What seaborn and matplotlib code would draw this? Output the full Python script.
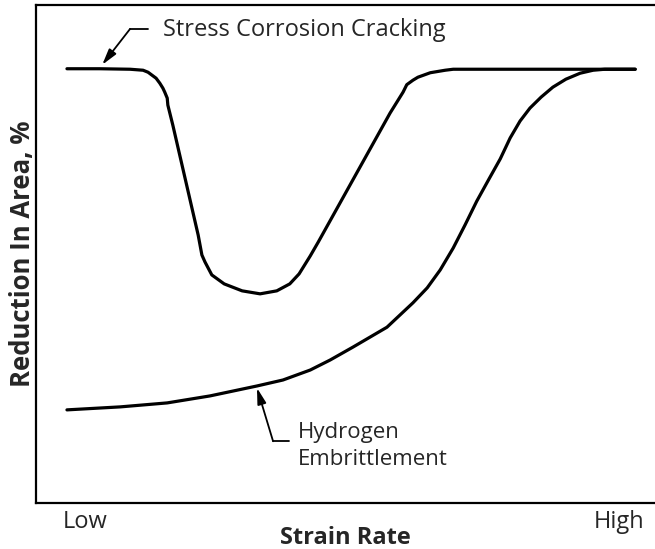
import matplotlib
matplotlib.use("Agg")
import matplotlib.pyplot as plt
import numpy as np
import pandas as pd
import seaborn as sns

# strain rate on a 0-100 relative scale, reduction in area in %
scc_rate = [5.0, 10.3, 15.2, 17.3, 18.1, 19.4, 20.0, 20.5, 20.8, 21.2, 21.3, 22.1,
            26.2, 26.8, 27.3, 28.4, 30.4, 33.3, 36.2, 38.9, 41.0, 42.5, 44.3, 45.6,
            57.2, 59.3, 59.9, 60.9, 61.7, 63.7, 66.1, 67.4, 71.7, 96.8]
scc_ra = [87.2, 87.2, 87.1, 86.9, 86.5, 85.3, 84.3, 83.3, 82.5, 81.3, 79.9, 75.9,
          53.8, 49.8, 48.4, 45.8, 44.0, 42.6, 42.0, 42.6, 44.0, 46.0, 49.6, 52.4,
          78.3, 82.5, 84.0, 84.9, 85.5, 86.4, 86.9, 87.1, 87.1, 87.1]

he_rate = [5.0, 13.6, 21.2, 28.1, 35.7, 39.9, 44.3, 47.5, 51.2, 56.7, 60.9, 63.2,
           65.3, 67.4, 69.3, 71.2, 73.2, 75.0, 76.6, 78.2, 79.8, 81.6, 83.5, 85.6,
           87.9, 90.0, 91.9, 96.8]
he_ra = [18.7, 19.3, 20.1, 21.5, 23.5, 24.7, 26.7, 28.7, 31.3, 35.3, 40.2, 43.2,
         46.8, 51.2, 55.8, 60.6, 65.1, 69.1, 73.3, 76.7, 79.3, 81.5, 83.5, 85.1,
         86.3, 86.9, 87.1, 87.1]

tick_pos = [7.9, 94.2]
tick_labels = ["Low", "High"]

# leader lines for the two labels: (tip, elbow, end)
scc_leader = [(10.7, 88.0), (15.2, 95.2), (18.1, 95.2)]
he_leader = [(35.7, 23.1), (38.3, 12.4), (40.9, 12.4)]

sns.set_theme(style="white")
plt.rcParams["font.family"] = ["Open Sans", "DejaVu Sans"]

fig = plt.figure(figsize=(6.55, 5.49), dpi=100)
ax = fig.add_axes([36 / 655, 46 / 549, 619 / 655, 498 / 549])

scc = pd.DataFrame({"rate": scc_rate, "ra": scc_ra})
he = pd.DataFrame({"rate": he_rate, "ra": he_ra})
sns.lineplot(data=scc, x="rate", y="ra", sort=False, estimator=None,
             color="black", lw=2.3, ax=ax)
sns.lineplot(data=he, x="rate", y="ra", sort=False, estimator=None,
             color="black", lw=2.3, ax=ax)
for line in ax.lines:
    line.set_solid_joinstyle("round")

for leader in (scc_leader, he_leader):
    tip, elbow, end = leader
    ax.plot([elbow[0], end[0]], [elbow[1], end[1]], color="black", lw=1.3)
    ax.annotate("", xy=tip, xytext=elbow,
                arrowprops=dict(arrowstyle="-|>,head_length=0.8,head_width=0.22",
                                color="black", lw=1.3, shrinkA=0, shrinkB=0))

ax.text(20.5, 95.0, "Stress Corrosion Cracking", fontsize=17, va="center", ha="left")
ax.text(42.3, 11.4, "Hydrogen\nEmbrittlement", fontsize=16, va="center", ha="left",
        linespacing=1.35)

ax.set_xlim(0, 100)
ax.set_ylim(0, 100)
ax.set_xticks(tick_pos, tick_labels)
ax.set_yticks([])
ax.tick_params(axis="x", length=0, pad=5, labelsize=17)
ax.set_xlabel("Strain Rate", fontsize=17, fontweight="bold", labelpad=-6)
ax.set_ylabel("Reduction In Area, %", fontsize=18.5, fontweight="bold", labelpad=0)

for side in ("left", "bottom", "top"):
    ax.spines[side].set_color("black")
    ax.spines[side].set_linewidth(1.6)
ax.spines["right"].set_visible(False)

fig.savefig("out.png", dpi=100)
